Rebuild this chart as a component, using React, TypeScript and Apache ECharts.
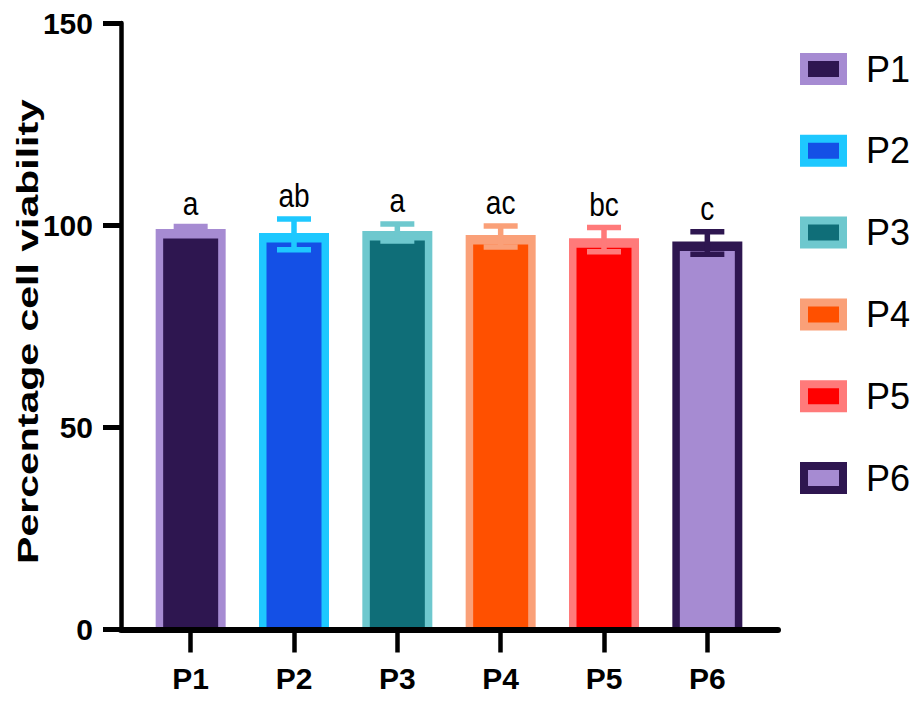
import React, { useEffect, useRef } from "react";
import * as echarts from "echarts";

const categories = ["P1", "P2", "P3", "P4", "P5", "P6"];
const means = [98.7, 97.7, 98.2, 97.2, 96.4, 95.6];
const sds = [1.0, 3.8, 2.1, 2.6, 3.0, 2.8];
const letters = ["a", "ab", "a", "ac", "bc", "c"];
const fillColors = ["#2E1650", "#1450E6", "#0F6E78", "#FF5000", "#FF0000", "#A68BD2"];
const borderColors = ["#A68BD2", "#1EC8FF", "#6EC8CE", "#FAA078", "#FF7A7A", "#2E1650"];
const yTicks = { min: 0, max: 150, interval: 50 };

const FONT = "'Liberation Sans', Arial, sans-serif";

export default function App() {
  const ref = useRef<HTMLDivElement>(null);
  useEffect(() => {
    document.body.style.margin = "0";
    const chart = echarts.init(ref.current!, null, { renderer: "svg" });

    const barSeries = categories.map((name, k) => ({
      name,
      type: "custom",
      xAxisIndex: 0,
      yAxisIndex: 0,
      z: 3,
      itemStyle: { color: fillColors[k], borderColor: borderColors[k], borderWidth: 8 },
      data: [[k, means[k], sds[k]]],
      encode: { x: 0, y: 1 },
      renderItem: (params: any, api: any) => {
        const i = api.value(0);
        const m = api.value(1);
        const s = api.value(2);
        const base = api.coord([i, 0]);
        const mid = api.coord([i, m]);
        const top = api.coord([i, m + s]);
        const bot = api.coord([i, m - s]);
        const halfW = 35;
        const side = 7.5;
        const topB = 9.5;
        const outerTop = mid[1] - 1.5;
        const hw = 17;
        const col = borderColors[i];
        const ls = { stroke: col, lineWidth: 5.5 };
        return {
          type: "group",
          children: [
            {
              type: "rect",
              shape: { x: mid[0] - halfW, y: outerTop, width: halfW * 2, height: base[1] - outerTop },
              style: { fill: borderColors[i] },
            },
            {
              type: "rect",
              shape: {
                x: mid[0] - halfW + side,
                y: outerTop + topB,
                width: halfW * 2 - side * 2,
                height: base[1] - outerTop - topB,
              },
              style: { fill: fillColors[i] },
            },
            { type: "line", shape: { x1: top[0], y1: top[1], x2: bot[0], y2: bot[1] }, style: ls },
            { type: "line", shape: { x1: top[0] - hw, y1: top[1], x2: top[0] + hw, y2: top[1] }, style: ls },
            { type: "line", shape: { x1: bot[0] - hw, y1: bot[1], x2: bot[0] + hw, y2: bot[1] }, style: ls },
            {
              type: "text",
              x: top[0],
              y: top[1] - 7,
              scaleX: 0.85,
              style: {
                text: letters[i],
                fill: "#000",
                fontSize: 33,
                fontFamily: FONT,
                align: "center",
                verticalAlign: "bottom",
              },
            },
          ],
        };
      },
    }));

    chart.setOption({
      animation: false,
      backgroundColor: "#fff",
      grid: [
        { left: 139, right: 154, top: 23, bottom: 71.5 },
        { left: 121, right: 135, top: 23, bottom: 71.5 },
      ],
      xAxis: [
        {
          type: "category",
          gridIndex: 0,
          data: categories,
          axisLine: { show: false },
          axisTick: { show: true, alignWithLabel: true, length: 23, lineStyle: { color: "#000", width: 4.5 } },
          axisLabel: { color: "#000", fontSize: 30, fontWeight: "bold", fontFamily: FONT, margin: 34 },
          splitLine: { show: false },
        },
        {
          type: "value",
          gridIndex: 1,
          min: 0,
          max: 1,
          z: 10,
          axisLine: { show: true, onZero: false, lineStyle: { color: "#000", width: 6 } },
          axisTick: { show: false },
          axisLabel: { show: false },
          splitLine: { show: false },
        },
      ],
      yAxis: [
        {
          type: "value",
          gridIndex: 0,
          min: yTicks.min,
          max: yTicks.max,
          interval: yTicks.interval,
          offset: 18,
          axisLine: { show: true, lineStyle: { color: "#000", width: 4.5 } },
          axisTick: { show: true, length: 18, lineStyle: { color: "#000", width: 5 } },
          axisLabel: { color: "#000", fontSize: 30, fontWeight: "bold", fontFamily: FONT, margin: 28 },
          splitLine: { show: false },
        },
        { type: "value", gridIndex: 1, show: false, min: 0, max: 1 },
      ],
      legend: {
        orient: "vertical",
        left: 795,
        top: 46,
        itemWidth: 39,
        itemHeight: 24,
        itemGap: 45.8,
        icon: "rect",
        itemStyle: { borderWidth: 8 },
        textStyle: {
          color: "#000",
          fontSize: 36,
          lineHeight: 36,
          fontFamily: FONT,
          padding: [0, 0, 0, 18],
        },
        data: categories.map((c, i) => ({
          name: c,
          itemStyle: { color: fillColors[i], borderColor: borderColors[i], borderWidth: 8 },
        })),
      },
      graphic: [
        {
          type: "text",
          x: 28,
          y: 331.5,
          rotation: Math.PI / 2,
          scaleX: 1,
          scaleY: 0.72,
          style: {
            text: "Percentage cell viability",
            fill: "#000",
            fontSize: 41,
            fontWeight: "bold",
            fontFamily: FONT,
            align: "center",
            verticalAlign: "middle",
          },
        },
      ],
      series: barSeries,
    });
    return () => chart.dispose();
  }, []);
  return <div ref={ref} style={{ width: 913, height: 701 }} />;
}
